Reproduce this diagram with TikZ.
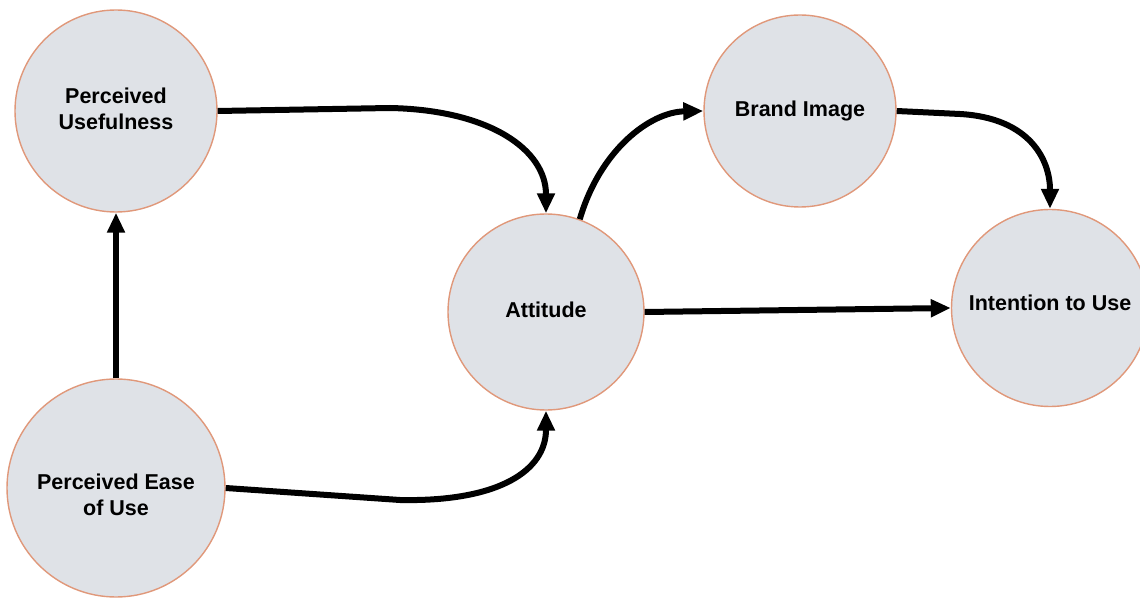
\documentclass[tikz,border=0pt]{standalone}
\usepackage{fontspec}
\setmainfont{Liberation Sans}
\usetikzlibrary{arrows.meta}
\definecolor{circfill}{RGB}{223,226,231}
\definecolor{circdraw}{RGB}{224,152,122}
\begin{document}
\begin{tikzpicture}[x=1pt,y=-1pt,
  concept/.style={circle,draw=circdraw,fill=circfill,line width=1.4pt,inner sep=0pt,
    align=center,font=\fontsize{21.5}{26}\selectfont\bfseries,text=black},
  link/.style={line width=6pt,-{Triangle[length=20pt,width=17pt]}}]
\useasboundingbox (0,0) rectangle (1140,601);
\node[concept,minimum size=202pt] (pu) at (116,111) {Perceived\\Usefulness\rule[-4pt]{0pt}{4pt}};
\node[concept,minimum size=218pt] (pe) at (116,488) {\rule{0pt}{30pt}Perceived Ease\\of Use};
\node[concept,minimum size=196pt] (att) at (546,312) {Attitude\rule[-4pt]{0pt}{4pt}};
\node[concept,minimum size=192pt] (bi) at (800,111) {Brand Image};
\node[concept,minimum size=197pt] (iu) at (1050,308) {Intention to Use\rule[-10pt]{0pt}{10pt}};
\coordinate (k1) at (390,108);
\coordinate (k2) at (400,500);
\coordinate (k3) at (960,114);
\draw[link] (pu.east) -- (k1) .. controls (490,110) and (546,150) .. (att.north);
\draw[link] (att.70) .. controls (600,150) and (650,112) .. (bi.west);
\draw[link] (bi.east) -- (k3) .. controls (1030,118) and (1050,160) .. (iu.north);
\draw[link] (att.east) -- (iu.west);
\draw[link] (pe.north) -- (pu.south);
\draw[link] (pe.east) -- (k2) .. controls (500,502) and (546,470) .. (att.south);
\end{tikzpicture}
\end{document}
